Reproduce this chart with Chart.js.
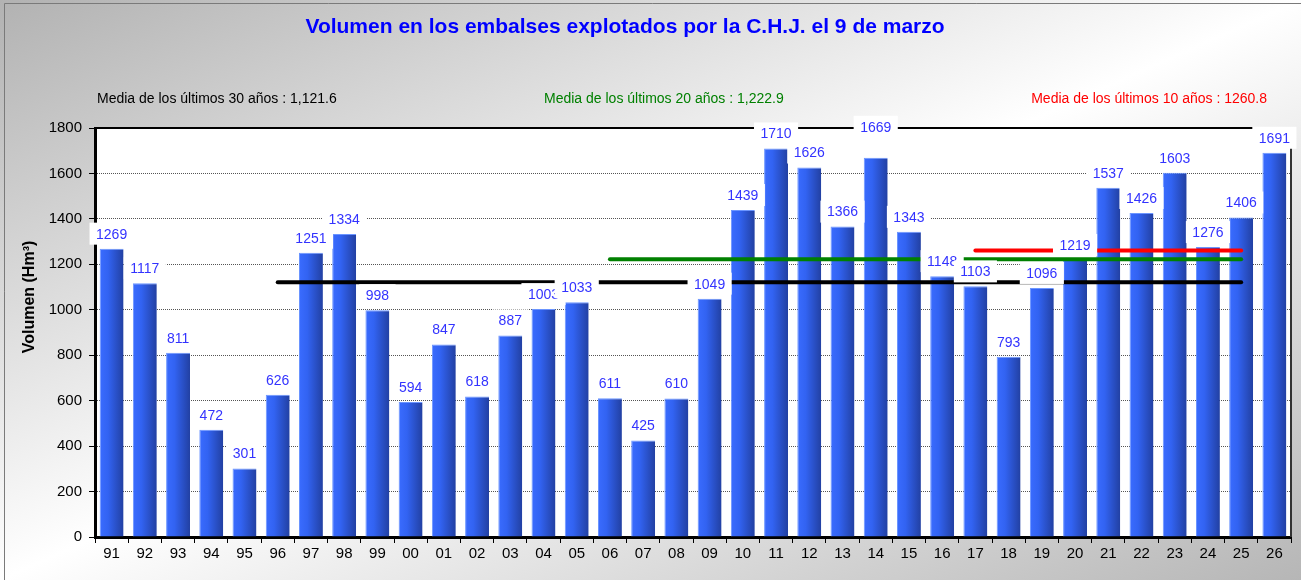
<!DOCTYPE html>
<html>
<head>
<meta charset="utf-8">
<script src="https://cdn.jsdelivr.net/npm/chart.js@4"></script>
<style>
  html, body { margin: 0; padding: 0; background: #fff; }
  canvas { display: block; }
</style>
</head>
<body>
<canvas id="c" width="1301" height="580"></canvas>
<script>
// ---- data ----
const categories = ['91','92','93','94','95','96','97','98','99','00','01','02','03','04','05','06','07','08','09','10','11','12','13','14','15','16','17','18','19','20','21','22','23','24','25','26'];
const volumes = [1269,1117,811,472,301,626,1251,1334,998,594,847,618,887,1003,1033,611,425,610,1049,1439,1710,1626,1366,1669,1343,1148,1103,793,1096,1219,1537,1426,1603,1276,1406,1691];
const yTicks = [0,200,400,600,800,1000,1200,1400,1600,1800];
const meanValues = [1121.6, 1222.9, 1260.8];
const meanFrom = ['96','06','17'];
const meanTo = ['25','25','25'];
const meanTexts = ['Media de los últimos 30 años : 1,121.6', 'Media de los últimos 20 años : 1,222.9', 'Media de los últimos 10 años : 1260.8'];
const titleText = 'Volumen en los embalses explotados por la C.H.J. el 9 de marzo';
const yTitle = 'Volumen (Hm³)';

// ---- styles ----
const FONT = '"Liberation Sans", Arial, sans-serif';
const meanColors = ['#000000', '#008000', '#ff0000'];
const labelLift = { '14': 16 };

const decor = {
  id: 'decor',
  beforeDraw(chart) {
    const c = chart.ctx, W = chart.width, H = chart.height, a = chart.chartArea;
    c.save();
    const k = W * H / (W * W + H * H);
    const cx = W / 2, cy = H / 2;
    const g = c.createLinearGradient(cx - k * H, cy - k * W, cx + k * H, cy + k * W);
    g.addColorStop(0, '#b2b2b2');
    g.addColorStop(0.5, '#ffffff');
    g.addColorStop(1, '#b6b6b6');
    c.fillStyle = g;
    c.fillRect(0, 0, W, H);
    c.strokeStyle = '#7a7a7a';
    c.lineWidth = 1;
    c.beginPath();
    c.moveTo(4.5, H); c.lineTo(4.5, 3.5); c.lineTo(W, 3.5);
    c.stroke();
    c.fillStyle = '#ffffff';
    c.fillRect(a.left, a.top, a.right - a.left, a.bottom - a.top);
    // title
    c.fillStyle = '#0000ff';
    c.font = 'bold 21px ' + FONT;
    c.textAlign = 'center';
    c.textBaseline = 'middle';
    c.fillText(titleText, 625, 27);
    // mean texts
    c.font = '14px ' + FONT;
    c.fillStyle = meanColors[0]; c.textAlign = 'left';
    c.fillText(meanTexts[0], 97, 99);
    c.fillStyle = meanColors[1]; c.textAlign = 'left';
    c.fillText(meanTexts[1], 544, 99);
    c.fillStyle = meanColors[2]; c.textAlign = 'right';
    c.fillText(meanTexts[2], 1267, 99);
    // y title
    c.save();
    c.translate(30, 297);
    c.rotate(-Math.PI / 2);
    c.fillStyle = '#000';
    c.font = 'bold 16px ' + FONT;
    c.textAlign = 'center';
    c.fillText(yTitle, 0, 0);
    c.restore();
    c.restore();
  },
  beforeDatasetsDraw(chart) {
    const c = chart.ctx, a = chart.chartArea;
    c.save();
    c.strokeStyle = '#000';
    c.lineWidth = 2;
    c.beginPath();
    c.moveTo(a.left, a.top); c.lineTo(a.right, a.top);
    c.stroke();
    c.strokeStyle = '#333';
    c.beginPath();
    c.moveTo(a.right, a.top); c.lineTo(a.right, a.bottom);
    c.stroke();
    c.restore();
  },
  afterDatasetsDraw(chart) {
    const c = chart.ctx, xs = chart.scales.x, ys = chart.scales.y;
    c.save();
    // mean lines
    c.lineCap = 'round';
    c.lineWidth = 4;
    for (let i = 0; i < meanValues.length; i++) {
      const y = ys.getPixelForValue(meanValues[i]);
      const x1 = xs.getPixelForValue(categories.indexOf(meanFrom[i]));
      const x2 = xs.getPixelForValue(categories.indexOf(meanTo[i]));
      c.strokeStyle = meanColors[i];
      c.beginPath(); c.moveTo(x1, y); c.lineTo(x2, y); c.stroke();
    }
    // data labels
    c.font = '14px ' + FONT;
    c.textAlign = 'center';
    c.textBaseline = 'middle';
    const meta = chart.getDatasetMeta(0);
    meta.data.forEach((el, i) => {
      const txt = String(volumes[i]);
      const w = c.measureText(txt).width + 13;
      const cy = el.y - 15 - (labelLift[categories[i]] || 0);
      c.fillStyle = '#ffffff';
      c.fillRect(el.x - w / 2, cy - 11, w, 22);
      c.fillStyle = '#3333ff';
      c.fillText(txt, el.x, cy + 1);
    });
    c.restore();
  }
};

function barFill(ctx) {
  const chart = ctx.chart, a = chart.chartArea;
  if (!a || ctx.type !== 'data') return '#2f5ce6';
  const xs = chart.scales.x;
  const cx = xs.getPixelForValue(ctx.dataIndex);
  const half = (a.right - a.left) / categories.length * 0.72 / 2;
  const g = chart.ctx.createLinearGradient(cx - half, 0, cx + half, 0);
  g.addColorStop(0, '#3a6cff');
  g.addColorStop(0.35, '#3263f2');
  g.addColorStop(1, '#2240a2');
  return g;
}

new Chart(document.getElementById('c'), {
  type: 'bar',
  data: {
    labels: categories,
    datasets: [{
      data: volumes,
      backgroundColor: barFill,
      borderColor: '#6b95ff',
      borderWidth: { left: 1, top: 1, right: 0, bottom: 0 },
      borderSkipped: 'bottom',
      barPercentage: 0.72,
      categoryPercentage: 1
    }]
  },
  plugins: [decor],
  options: {
    responsive: false,
    animation: false,
    devicePixelRatio: 1,
    layout: { padding: { top: 128, right: 10, left: 0, bottom: 0 } },
    plugins: { legend: { display: false }, tooltip: { enabled: false }, title: { display: false } },
    scales: {
      x: {
        grid: { drawOnChartArea: false, offset: true, tickLength: 6, color: '#000', tickColor: '#000', tickWidth: 1 },
        border: { color: '#000', width: 3 },
        ticks: { font: { family: FONT, size: 15 }, color: '#000', padding: 2, maxRotation: 0, autoSkip: false },
        afterFit(s) { s.height = 43; }
      },
      y: {
        min: 0, max: 1800,
        afterBuildTicks(s) { s.ticks = yTicks.map(v => ({ value: v })); },
        grid: { color: '#555', tickColor: '#000', tickLength: 6, lineWidth: 1, tickBorderDash: [] },
        border: { color: '#000', width: 3, dash: [1, 1] },
        ticks: { font: { family: FONT, size: 15 }, color: '#000', padding: 7, callback: v => String(v) },
        afterFit(s) { s.width = 95; }
      }
    }
  }
});
</script>
</body>
</html>
